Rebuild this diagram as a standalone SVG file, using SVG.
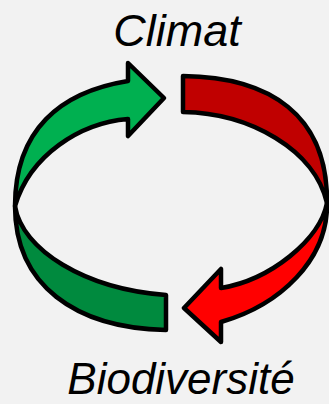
<svg xmlns="http://www.w3.org/2000/svg" width="329" height="404" viewBox="0 0 329 404">
<style>
.lbl{font-family:"Liberation Sans",Arial,sans-serif;font-style:italic;font-size:45px;fill:#000;text-anchor:middle}
.band{stroke:#000;stroke-width:4.5;stroke-linejoin:round}
</style>
<rect width="329" height="404" fill="#F2F2F2"/>
<g id="connectors">
<g id="green-arrow">
<path class="band" fill="#008A3E" d="M15,206 C15,285 75,328 166,330 L166,295 C85,289 22,250 15,206 Z"/>
<path class="band" fill="#00B050" d="M128,81 L128,63 L164,98 L128,136 L128,119 C80,123 30,155 15,206 C15,130 60,92 128,81 Z"/>
</g>
<g id="red-arrow">
<path class="band" fill="#FF0000" d="M327,203 C328,260 280,305 221,322 L221,342 L184,308 L221,269 L221,288 C270,280 320,240 327,203 Z"/>
<path class="band" fill="#C00000" d="M183,76 C270,77 328,115 327,203 C315,150 250,113 183,112 Z"/>
</g>
</g>
<g id="climat"><text class="lbl" x="177" y="46">Climat</text></g>
<g id="biodiversite"><text class="lbl" x="181" y="394" style="font-size:44px">Biodiversité</text></g>
</svg>
